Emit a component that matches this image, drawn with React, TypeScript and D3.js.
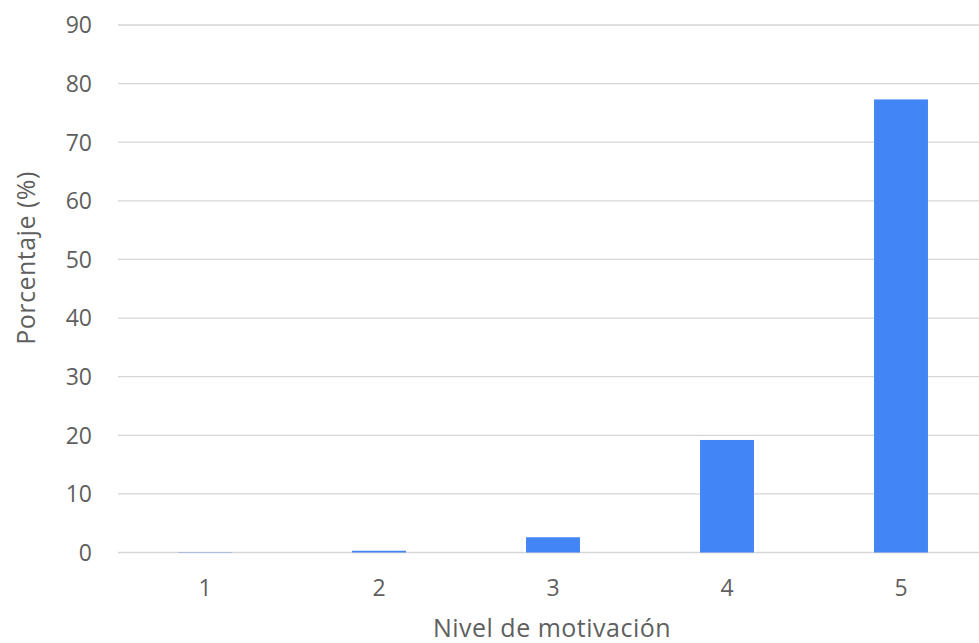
import React from "react";
import * as d3 from "d3";

const categories = ["1", "2", "3", "4", "5"];
const values = [0.05, 0.3, 2.6, 19.2, 77.3];
const yTicks = [0, 10, 20, 30, 40, 50, 60, 70, 80, 90];
const xTitle = "Nivel de motivación";
const yTitle = "Porcentaje (%)";

const W = 979;
const H = 643;
const FONT = "'Open Sans', 'Noto Sans', sans-serif";
const FS = 23;
const TFS = 25;

export default function App() {
  const x = d3
    .scaleBand<string>()
    .domain(categories)
    .range([118, 988])
    .paddingInner(0.69)
    .paddingOuter(0.345);
  const y = d3.scaleLinear().domain([0, 90]).range([552.5, 25]);

  return (
    <svg
      width={W}
      height={H}
      style={{ position: "absolute", left: 0, top: 0, background: "#fff" }}
    >
      {yTicks.map((t) => (
        <g key={t}>
          <line
            x1={118}
            x2={W}
            y1={y(t)}
            y2={y(t)}
            stroke="#d6d6d6"
            strokeWidth={1.3}
          />
          <text
            x={92}
            y={y(t) + 8.3}
            textAnchor="end"
            fontFamily={FONT}
            fontSize={FS}
            fill="#5f5f5f"
          >
            {t}
          </text>
        </g>
      ))}
      {categories.map((c, i) => (
        <rect
          key={c}
          x={x(c)}
          y={y(values[i])}
          width={x.bandwidth()}
          height={y(0) - y(values[i])}
          fill="#4285f4"
        />
      ))}
      {categories.map((c) => (
        <text
          key={c}
          x={(x(c) as number) + x.bandwidth() / 2}
          y={595.5}
          textAnchor="middle"
          fontFamily={FONT}
          fontSize={FS}
          fill="#5f5f5f"
        >
          {c}
        </text>
      ))}
      <text
        x={552}
        y={637}
        textAnchor="middle"
        fontFamily={FONT}
        fontSize={TFS}
        letterSpacing={0.5}
        fill="#5f5f5f"
      >
        {xTitle}
      </text>
      <text
        transform={`translate(35, 258) rotate(-90)`}
        textAnchor="middle"
        fontFamily={FONT}
        fontSize={TFS}
        letterSpacing={0.5}
        fill="#5f5f5f"
      >
        {yTitle}
      </text>
    </svg>
  );
}
